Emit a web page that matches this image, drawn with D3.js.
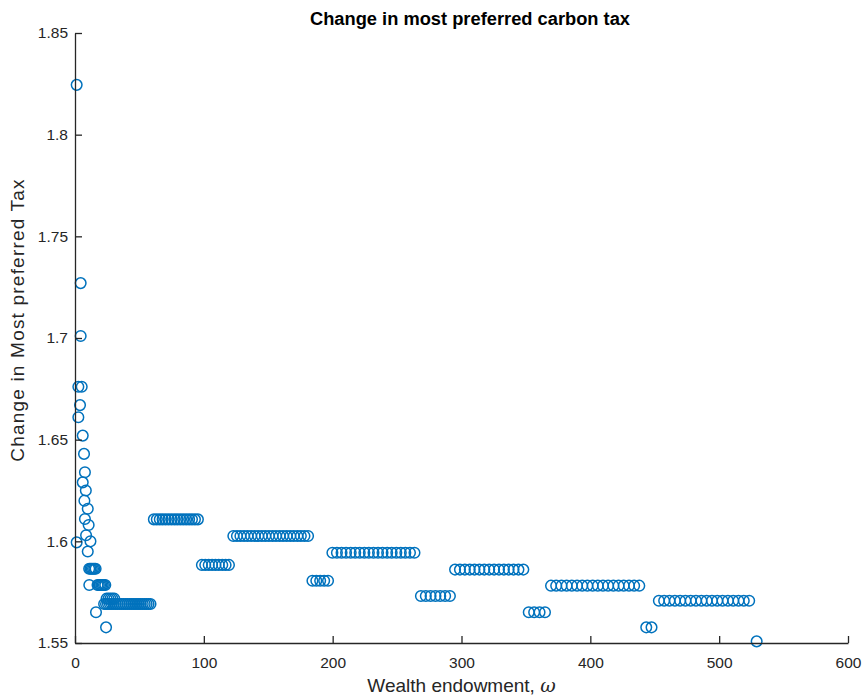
<!DOCTYPE html>
<html>
<head>
<meta charset="utf-8">
<script src="https://cdn.jsdelivr.net/npm/d3@7"></script>
<style>
  body { margin: 0; background: #fff; }
  svg { display: block; font-family: "Liberation Sans", Arial, Helvetica, sans-serif; }
</style>
</head>
<body>
<svg id="chart"></svg>
<script>
// data: wealth endowment (x) and change in most preferred tax (y)
const wealth = [
  1.3, 4.4, 4.4, 2.6, 5.2, 3.9, 2.6, 6.0, 7.0, 7.7, 6.0, 8.4, 7.3, 9.9, 7.7, 10.6, 8.6, 12.0, 1.3, 9.9,
  11.0, 12.0, 13.0, 14.0, 15.0, 16.0,
  11.1, 17.5, 18.5, 19.5, 20.5, 21.5, 22.5, 23.5,
  16.3, 24.1,
  24.5, 26.0, 27.5, 29.0, 30.5,
  22.6, 24.1, 25.6, 27.1, 28.6, 30.1, 31.6, 33.1, 34.6, 36.1, 37.6, 39.1, 40.6, 42.1, 43.6, 45.1, 46.6, 48.1, 49.6, 51.1, 52.6, 54.1, 55.6, 57.1, 58.6,
  61.2, 63.5, 65.8, 68.0, 70.3, 72.6, 74.9, 77.2, 79.4, 81.7, 84.0, 86.3, 88.6, 90.8, 93.1, 95.4,
  98.5, 101.1, 103.8, 106.4, 109.0, 111.6, 114.3, 116.9, 119.5,
  122.9, 125.7, 128.4, 131.2, 133.9, 136.7, 139.5, 142.2, 145.0, 147.7, 150.5, 153.3, 156.0, 158.8, 161.5, 164.3, 167.1, 169.8, 172.6, 175.3, 178.1, 180.9,
  184.3, 187.3, 190.3, 193.4, 196.4,
  199.8, 203.3, 206.9, 210.4, 214.0, 217.5, 221.0, 224.6, 228.1, 231.7, 235.2, 238.7, 242.3, 245.8, 249.4, 252.9, 256.4, 260.0, 263.5,
  268.5, 272.3, 276.0, 279.8, 283.5, 287.3, 291.0,
  295.0, 298.8, 302.6, 306.4, 310.1, 313.9, 317.7, 321.5, 325.3, 329.1, 332.9, 336.6, 340.4, 344.2, 348.0,
  352.2, 356.4, 360.6, 364.8,
  369.5, 373.5, 377.6, 381.6, 385.6, 389.7, 393.7, 397.7, 401.8, 405.8, 409.8, 413.8, 417.9, 421.9, 425.9, 430.0, 434.0, 438.0,
  443.4, 447.5,
  453.2, 457.3, 461.4, 465.6, 469.7, 473.8, 477.9, 482.0, 486.2, 490.3, 494.4, 498.5, 502.6, 506.8, 510.9, 515.0, 519.1, 523.3,
  529.1
];

const taxChange = [
  1.8245, 1.727, 1.701, 1.676, 1.676, 1.667, 1.661, 1.652, 1.643, 1.634, 1.629, 1.625, 1.620, 1.616, 1.611, 1.608, 1.603, 1.600, 1.5995, 1.595,
  1.5865, 1.5865, 1.5865, 1.5865, 1.5865, 1.5865,
  1.5785, 1.5785, 1.5785, 1.5785, 1.5785, 1.5785, 1.5785, 1.5785,
  1.5651, 1.5577,
  1.5718, 1.5718, 1.5718, 1.5718, 1.5718,
  1.5692, 1.5692, 1.5692, 1.5692, 1.5692, 1.5692, 1.5692, 1.5692, 1.5692, 1.5692, 1.5692, 1.5692, 1.5692, 1.5692, 1.5692, 1.5692, 1.5692, 1.5692, 1.5692, 1.5692, 1.5692, 1.5692, 1.5692, 1.5692, 1.5692,
  1.6108, 1.6108, 1.6108, 1.6108, 1.6108, 1.6108, 1.6108, 1.6108, 1.6108, 1.6108, 1.6108, 1.6108, 1.6108, 1.6108, 1.6108, 1.6108,
  1.5884, 1.5884, 1.5884, 1.5884, 1.5884, 1.5884, 1.5884, 1.5884, 1.5884,
  1.6026, 1.6026, 1.6026, 1.6026, 1.6026, 1.6026, 1.6026, 1.6026, 1.6026, 1.6026, 1.6026, 1.6026, 1.6026, 1.6026, 1.6026, 1.6026, 1.6026, 1.6026, 1.6026, 1.6026, 1.6026, 1.6026,
  1.5806, 1.5806, 1.5806, 1.5806, 1.5806,
  1.5944, 1.5944, 1.5944, 1.5944, 1.5944, 1.5944, 1.5944, 1.5944, 1.5944, 1.5944, 1.5944, 1.5944, 1.5944, 1.5944, 1.5944, 1.5944, 1.5944, 1.5944, 1.5944,
  1.5731, 1.5731, 1.5731, 1.5731, 1.5731, 1.5731, 1.5731,
  1.5861, 1.5861, 1.5861, 1.5861, 1.5861, 1.5861, 1.5861, 1.5861, 1.5861, 1.5861, 1.5861, 1.5861, 1.5861, 1.5861, 1.5861,
  1.5651, 1.5651, 1.5651, 1.5651,
  1.5782, 1.5782, 1.5782, 1.5782, 1.5782, 1.5782, 1.5782, 1.5782, 1.5782, 1.5782, 1.5782, 1.5782, 1.5782, 1.5782, 1.5782, 1.5782, 1.5782, 1.5782,
  1.5577, 1.5577,
  1.5708, 1.5708, 1.5708, 1.5708, 1.5708, 1.5708, 1.5708, 1.5708, 1.5708, 1.5708, 1.5708, 1.5708, 1.5708, 1.5708, 1.5708, 1.5708, 1.5708, 1.5708,
  1.5508
];

const xTicks = [0, 100, 200, 300, 400, 500, 600];
const yTicks = [1.55, 1.6, 1.65, 1.7, 1.75, 1.8, 1.85];
const yTickLabels = ["1.55", "1.6", "1.65", "1.7", "1.75", "1.8", "1.85"];

const width = 865, height = 696;
const margin = {top: 33, right: 17, bottom: 53, left: 75};
const innerW = width - margin.left - margin.right;
const innerH = height - margin.top - margin.bottom;
const axisColor = "#262626";

const svg = d3.select("#chart").attr("width", width).attr("height", height);
const chart = svg.append("g").attr("transform", `translate(${margin.left}, ${margin.top})`);

const xscale = d3.scaleLinear().domain([0, 600]).range([0, innerW]);
const yscale = d3.scaleLinear().domain([1.55, 1.85]).range([innerH, 0]);

const points = d3.zip(wealth, taxChange);

// points
chart.append("g").selectAll("circle")
  .data(points)
  .enter()
  .append("circle")
  .attr("cx", d => xscale(d[0]))
  .attr("cy", d => yscale(d[1]))
  .attr("r", 5.3)
  .attr("fill", "none")
  .attr("stroke", "#0072BD")
  .attr("stroke-width", 1.5);

// axes, ticks pointing inward like MATLAB
const xaxis = d3.axisBottom(xscale).tickValues(xTicks).tickSizeInner(-7).tickSizeOuter(0).tickPadding(14);
const yaxis = d3.axisLeft(yscale).tickValues(yTicks).tickFormat((d, i) => yTickLabels[i]).tickSizeInner(-7).tickSizeOuter(0).tickPadding(7);

const xg = chart.append("g").attr("transform", `translate(0, ${innerH})`).call(xaxis);
const yg = chart.append("g").call(yaxis);

[xg, yg].forEach(g => {
  g.select(".domain").attr("stroke", axisColor).attr("stroke-width", 1.3);
  g.selectAll(".tick line").attr("stroke", axisColor).attr("stroke-width", 1.3);
  g.selectAll(".tick text").attr("fill", axisColor).attr("font-size", "15.5px");
});
xg.selectAll(".tick text").attr("dy", "0.71em");

// axis labels
svg.append("text")
  .attr("x", margin.left + innerW / 2)
  .attr("y", 692)
  .attr("text-anchor", "middle")
  .attr("font-size", "19px")
  .attr("fill", axisColor)
  .html('Wealth endowment, <tspan font-style="italic" font-family="DejaVu Serif, serif">ω</tspan>');

svg.append("text")
  .attr("transform", `translate(24, 320) rotate(-90)`)
  .attr("text-anchor", "middle")
  .attr("font-size", "19px")
  .attr("letter-spacing", "1.2px")
  .attr("fill", axisColor)
  .text("Change in Most preferred Tax");

// title
svg.append("text")
  .attr("x", 470)
  .attr("y", 25)
  .attr("text-anchor", "middle")
  .attr("font-size", "18.3px")
  .attr("font-weight", "bold")
  .attr("fill", "#000")
  .text("Change in most preferred carbon tax");
</script>
</body>
</html>
